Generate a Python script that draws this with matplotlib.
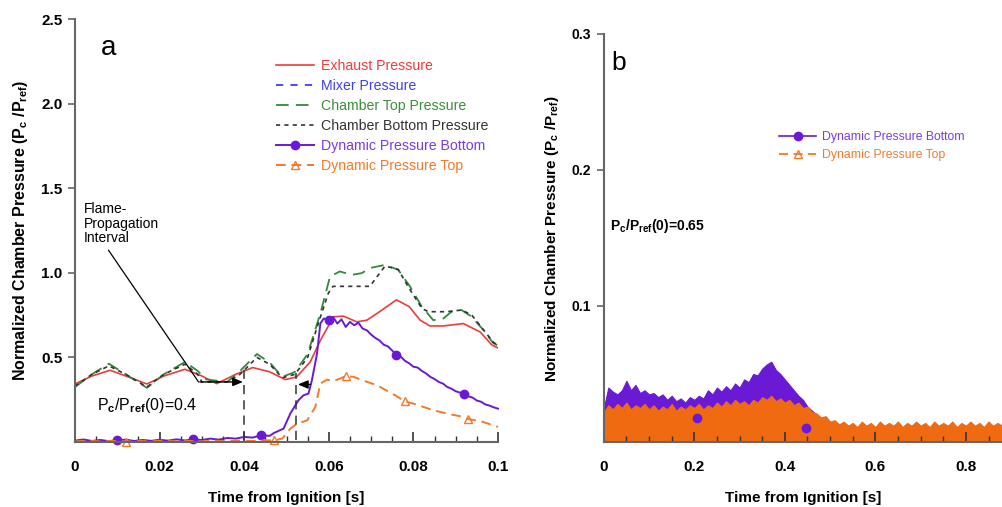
import numpy as np
import matplotlib
matplotlib.use("Agg")
import matplotlib.pyplot as plt
from matplotlib.lines import Line2D
from matplotlib.ticker import MultipleLocator

plt.rcParams["font.family"] = ["Liberation Sans", "DejaVu Sans"]
plt.rcParams["mathtext.fontset"] = "custom"
plt.rcParams["mathtext.rm"] = "Liberation Sans"
plt.rcParams["mathtext.bf"] = "Liberation Sans:bold"
plt.rcParams["mathtext.it"] = "Liberation Sans:italic"

# ---- panel a: initial pressure ratio 0.4 ----
t_exhaust = [0, 0.004, 0.0083, 0.012, 0.017, 0.021, 0.026, 0.030, 0.0335, 0.038,
             0.042, 0.046, 0.0497, 0.0524, 0.0556, 0.058, 0.0611, 0.0635, 0.0666,
             0.069, 0.0714, 0.0737, 0.0760, 0.0790, 0.0816, 0.0839, 0.0871, 0.0918,
             0.0958, 0.0986, 0.1]
p_exhaust = [0.343, 0.39, 0.424, 0.39, 0.343, 0.39, 0.43, 0.39, 0.345, 0.40,
             0.44, 0.415, 0.369, 0.385, 0.473, 0.60, 0.74, 0.744, 0.71,
             0.72, 0.76, 0.80, 0.84, 0.80, 0.72, 0.686, 0.686, 0.70,
             0.65, 0.572, 0.556]

t_top = [0, 0.004, 0.008, 0.012, 0.017, 0.021, 0.026, 0.029, 0.031, 0.036,
         0.039, 0.043, 0.046, 0.049, 0.052, 0.055, 0.058, 0.0603, 0.0626, 0.0654,
         0.0678, 0.0697, 0.0733, 0.0764, 0.0792, 0.082, 0.0847, 0.0871, 0.089,
         0.0914, 0.0938, 0.0965, 0.0989, 0.1]
p_top = [0.325, 0.40, 0.463, 0.40, 0.32, 0.40, 0.473, 0.42, 0.37, 0.355,
         0.42, 0.52, 0.47, 0.385, 0.414, 0.52, 0.76, 0.978, 1.008, 0.988,
         0.998, 1.028, 1.047, 1.018, 0.919, 0.80, 0.72, 0.73, 0.77,
         0.78, 0.74, 0.663, 0.584, 0.57]

t_bottom = [0, 0.004, 0.008, 0.012, 0.017, 0.021, 0.026, 0.029, 0.030, 0.036,
            0.039, 0.043, 0.046, 0.049, 0.052, 0.055, 0.0575, 0.0599, 0.0610, 0.0697,
            0.0733, 0.0764, 0.0792, 0.0820, 0.0835, 0.0878, 0.0914, 0.0938, 0.0965,
            0.0989, 0.1]
p_bottom = [0.33, 0.40, 0.45, 0.40, 0.325, 0.40, 0.46, 0.40, 0.355, 0.355,
            0.40, 0.50, 0.46, 0.38, 0.40, 0.50, 0.70, 0.88, 0.92, 0.92,
            1.04, 1.02, 0.90, 0.79, 0.77, 0.77, 0.78, 0.75, 0.665,
            0.59, 0.57]

t_dyn_bottom = [0, 0.002, 0.004, 0.006, 0.008, 0.010, 0.012, 0.014, 0.016, 0.018,
                0.020, 0.022, 0.024, 0.026, 0.028, 0.030, 0.032, 0.034, 0.036, 0.038,
                0.040, 0.042, 0.044, 0.046, 0.047, 0.0493, 0.0509, 0.0528, 0.054, 0.0552,
                0.056, 0.0572, 0.058, 0.0588, 0.060, 0.061, 0.062, 0.063, 0.064, 0.065,
                0.066, 0.067, 0.068, 0.069, 0.070, 0.071, 0.072, 0.073, 0.074, 0.075,
                0.076, 0.077, 0.078, 0.079, 0.080, 0.081, 0.082, 0.083, 0.084, 0.085,
                0.086, 0.087, 0.088, 0.089, 0.090, 0.091, 0.092, 0.093, 0.094, 0.095,
                0.096, 0.097, 0.098, 0.099, 0.1]
p_dyn_bottom = [0.008, 0.015, 0.006, 0.012, 0.005, 0.010, 0.014, 0.006, 0.012, 0.007,
                0.013, 0.008, 0.016, 0.009, 0.015, 0.012, 0.020, 0.014, 0.024, 0.020,
                0.030, 0.026, 0.040, 0.036, 0.053, 0.079, 0.168, 0.246, 0.276, 0.286,
                0.365, 0.52, 0.70, 0.73, 0.72, 0.74, 0.70, 0.725, 0.68, 0.71,
                0.69, 0.705, 0.67, 0.66, 0.635, 0.615, 0.60, 0.575, 0.565, 0.54,
                0.515, 0.505, 0.48, 0.465, 0.445, 0.44, 0.42, 0.405, 0.385, 0.372,
                0.355, 0.345, 0.325, 0.315, 0.30, 0.292, 0.285, 0.27, 0.262, 0.245,
                0.238, 0.222, 0.215, 0.205, 0.197]
mk_dyn_bottom = [0.010, 0.028, 0.044, 0.060, 0.076, 0.092]

t_dyn_top = [0, 0.003, 0.006, 0.009, 0.012, 0.015, 0.018, 0.021, 0.024, 0.027,
             0.030, 0.033, 0.036, 0.039, 0.042, 0.045, 0.047, 0.049, 0.0509, 0.0525,
             0.0549, 0.0568, 0.058, 0.0596, 0.061, 0.0627, 0.064, 0.0659, 0.0674, 0.0714,
             0.0757, 0.078, 0.080, 0.0848, 0.0885, 0.0919, 0.093, 0.0958, 0.1]
p_dyn_top = [0.004, 0.008, 0.003, 0.007, 0.002, 0.006, 0.004, 0.008, 0.003, 0.006,
             0.004, 0.007, 0.005, 0.009, 0.006, 0.010, 0.010, 0.020, 0.079, 0.108,
             0.128, 0.207, 0.345, 0.369, 0.36, 0.375, 0.39, 0.385, 0.37, 0.335,
             0.276, 0.24, 0.227, 0.187, 0.165, 0.148, 0.135, 0.124, 0.089]
mk_dyn_top = [0.012, 0.047, 0.064, 0.078, 0.093]

# ---- panel b: initial pressure ratio 0.65 ----
t_b_bottom = np.round(np.arange(0, 0.481, 0.01), 3)
env_b_bottom = [0.025, 0.040, 0.037, 0.035, 0.038, 0.045, 0.038, 0.042, 0.036, 0.038,
                0.035, 0.036, 0.033, 0.035, 0.031, 0.034, 0.030, 0.032, 0.029, 0.033,
                0.031, 0.034, 0.032, 0.038, 0.035, 0.040, 0.037, 0.041, 0.038, 0.043,
                0.040, 0.046, 0.044, 0.050, 0.049, 0.054, 0.057, 0.059, 0.053, 0.050,
                0.046, 0.042, 0.038, 0.034, 0.031, 0.026, 0.023, 0.020, 0.016]
t_b_top = np.round(np.arange(0, 0.881, 0.01), 3)
env_b_top = [0.022, 0.027, 0.024, 0.028, 0.025, 0.029, 0.024, 0.027, 0.025, 0.028,
             0.024, 0.027, 0.023, 0.026, 0.024, 0.028, 0.023, 0.026, 0.024, 0.027,
             0.025, 0.028, 0.024, 0.027, 0.025, 0.029, 0.026, 0.030, 0.027, 0.031,
             0.028, 0.030, 0.027, 0.031, 0.029, 0.033, 0.031, 0.034, 0.030, 0.032,
             0.029, 0.031, 0.027, 0.029, 0.025, 0.026, 0.022, 0.021, 0.018, 0.019,
             0.015, 0.016, 0.013, 0.015, 0.012, 0.014, 0.011, 0.015, 0.012, 0.014,
             0.011, 0.015, 0.012, 0.014, 0.012, 0.015, 0.011, 0.014, 0.012, 0.015,
             0.012, 0.014, 0.011, 0.015, 0.012, 0.014, 0.012, 0.015, 0.011, 0.014,
             0.012, 0.015, 0.012, 0.014, 0.011, 0.015, 0.012, 0.014, 0.012]
mk_b_t = [0.205, 0.447]
mk_b_v = [0.0177, 0.0103]

RED = "#ee3b3b"
BLUE = "#4040e8"
GREEN = "#2f8a3c"
DARK = "#333333"
PURPLE = "#6a1ad4"
ORANGE = "#f27a2a"
ORANGE_FILL = "#f06a12"
SPINE = "#666666"

fig = plt.figure(figsize=(10.03, 5.07), dpi=100)
ax_a = fig.add_axes([0.0748, 0.1282, 0.4217, 0.8343])
ax_b = fig.add_axes([0.602, 0.1282, 0.398, 0.805])


def style_axes(ax):
    for side in ("top", "right"):
        ax.spines[side].set_visible(False)
    for side in ("left", "bottom"):
        ax.spines[side].set_color(SPINE)
        ax.spines[side].set_linewidth(1.5)
    ax.tick_params(axis="y", direction="out", length=5, width=1.2, color=SPINE,
                   labelsize=11, pad=4)
    ax.tick_params(axis="x", which="major", direction="in", length=7, width=1.2,
                   color=DARK, labelsize=11, pad=13)
    ax.tick_params(axis="x", which="minor", direction="in", length=4, width=1.0,
                   color=DARK)
    for lab in ax.get_xticklabels() + ax.get_yticklabels():
        lab.set_fontweight("bold")


ylabel = r"Normalized Chamber Pressure (P$_\mathbf{c}$ /P$_\mathbf{ref}$)"

# panel a
idx_b = [int(np.argmin(np.abs(np.array(t_dyn_bottom) - m))) for m in mk_dyn_bottom]
idx_t = [int(np.argmin(np.abs(np.array(t_dyn_top) - m))) for m in mk_dyn_top]

ax_a.plot(t_exhaust, p_exhaust, color=RED, lw=1.2, label="Exhaust Pressure")
ax_a.plot([], [], color=BLUE, lw=1.3, dashes=(4, 4), label="Mixer Pressure")
ax_a.plot(t_top, p_top, color=GREEN, lw=1.3, dashes=(7, 4), label="Chamber Top Pressure")
ax_a.plot(t_bottom, p_bottom, color=DARK, lw=1.2, dashes=(2.5, 2.5),
          label="Chamber Bottom Pressure")
ax_a.plot(t_dyn_bottom, p_dyn_bottom, color=PURPLE, lw=1.4, marker="o", ms=6,
          markevery=idx_b, label="Dynamic Pressure Bottom", clip_on=False)
ax_a.plot(t_dyn_top, p_dyn_top, color=ORANGE, lw=1.4, dashes=(5, 3), marker="^", ms=6,
          mfc="none", mec=ORANGE, markevery=idx_t, label="Dynamic Pressure Top",
          clip_on=False)

# flame propagation interval markers
ax_a.plot([0.040, 0.040], [0.01, 0.43], color=DARK, lw=1.1, dashes=(6, 4))
ax_a.plot([0.0523, 0.0523], [0.01, 0.41], color=DARK, lw=1.1, dashes=(6, 4))
ax_a.annotate("", xy=(0.0397, 0.355), xytext=(0.0295, 0.355),
              arrowprops=dict(arrowstyle="-|>,head_length=0.6,head_width=0.25",
                              color="black", lw=1.0, shrinkA=0, shrinkB=0))
ax_a.annotate("", xy=(0.0527, 0.34), xytext=(0.0556, 0.34),
              arrowprops=dict(arrowstyle="-|>,head_length=0.6,head_width=0.25",
                              color="black", lw=1.0, shrinkA=0, shrinkB=0))
ax_a.annotate("", xy=(0.0292, 0.355), xytext=(0.0079, 1.134),
              arrowprops=dict(arrowstyle="-", color="black", lw=0.9,
                              shrinkA=0, shrinkB=0))
ax_a.text(0.0021, 1.29, "Flame-\nPropagation\nInterval", fontsize=10,
          ha="left", va="center", linespacing=1.05, color="black")
ax_a.text(0.052, 0.087, r"P$_\mathbf{c}$/P$_\mathbf{ref}$(0)=0.4", transform=ax_a.transAxes,
          fontsize=11.5, ha="left", va="center")
ax_a.text(0.061, 0.931, "a", transform=ax_a.transAxes, fontsize=20, ha="left",
          va="center")

ax_a.set_xlim(0, 0.1)
ax_a.set_ylim(0, 2.5)
ax_a.set_yticks([0.5, 1.0, 1.5, 2.0, 2.5])
ax_a.set_xticks([0, 0.02, 0.04, 0.06, 0.08, 0.1])
ax_a.set_xticklabels(["0", "0.02", "0.04", "0.06", "0.08", "0.1"])
ax_a.xaxis.set_minor_locator(MultipleLocator(0.005))
style_axes(ax_a)
ax_a.set_xlabel("Time from Ignition [s]", fontsize=11, fontweight="bold", labelpad=12)
ax_a.set_ylabel(ylabel, fontsize=11.5, fontweight="bold", labelpad=8)

leg_a = ax_a.legend(loc="upper left", bbox_to_anchor=(0.475, 0.906), frameon=False,
                    fontsize=10.2, handlelength=2.7, handletextpad=0.45,
                    labelspacing=0.42, borderpad=0, borderaxespad=0, numpoints=1,
                    labelcolor=[RED, BLUE, "#3a8f3a", DARK, "#7b3be0", ORANGE])

# panel b
ax_b.fill_between(t_b_bottom, 0, env_b_bottom, color=PURPLE, lw=0.8)
ax_b.fill_between(t_b_top, 0, env_b_top, color=ORANGE_FILL, lw=0.8)
ax_b.plot(mk_b_t, mk_b_v, "o", color=PURPLE, ms=6)

ax_b.text(0.015, 0.53, r"P$_\mathbf{c}$/P$_\mathbf{ref}$(0)=0.65", transform=ax_b.transAxes,
          fontsize=10, fontweight="bold", ha="left", va="center")
ax_b.text(0.02, 0.929, "b", transform=ax_b.transAxes, fontsize=19, ha="left",
          va="center")

ax_b.set_xlim(0, 0.882)
ax_b.set_ylim(0, 0.3)
ax_b.set_yticks([0.1, 0.2, 0.3])
ax_b.set_xticks([0, 0.2, 0.4, 0.6, 0.8])
ax_b.set_xticklabels(["0", "0.2", "0.4", "0.6", "0.8"])
ax_b.xaxis.set_minor_locator(MultipleLocator(0.05))
style_axes(ax_b)
ax_b.tick_params(axis="y", labelsize=10)
ax_b.set_xlabel("Time from Ignition [s]", fontsize=11, fontweight="bold", labelpad=12)
ax_b.set_ylabel(ylabel, fontsize=11, fontweight="bold", labelpad=8)

handles_b = [
    Line2D([], [], color=PURPLE, lw=1.2, marker="o", ms=6),
    Line2D([], [], color=ORANGE, lw=1.3, dashes=(5, 3), marker="^", ms=6, mfc="none"),
]
ax_b.legend(handles_b, ["Dynamic Pressure Bottom", "Dynamic Pressure Top"],
            loc="upper left", bbox_to_anchor=(0.44, 0.762), frameon=False,
            fontsize=8.8, handlelength=3.0, handletextpad=0.5, labelspacing=0.5,
            borderpad=0, borderaxespad=0, numpoints=1,
            labelcolor=["#7b3be0", ORANGE])

fig.savefig("out.png", dpi=100)
